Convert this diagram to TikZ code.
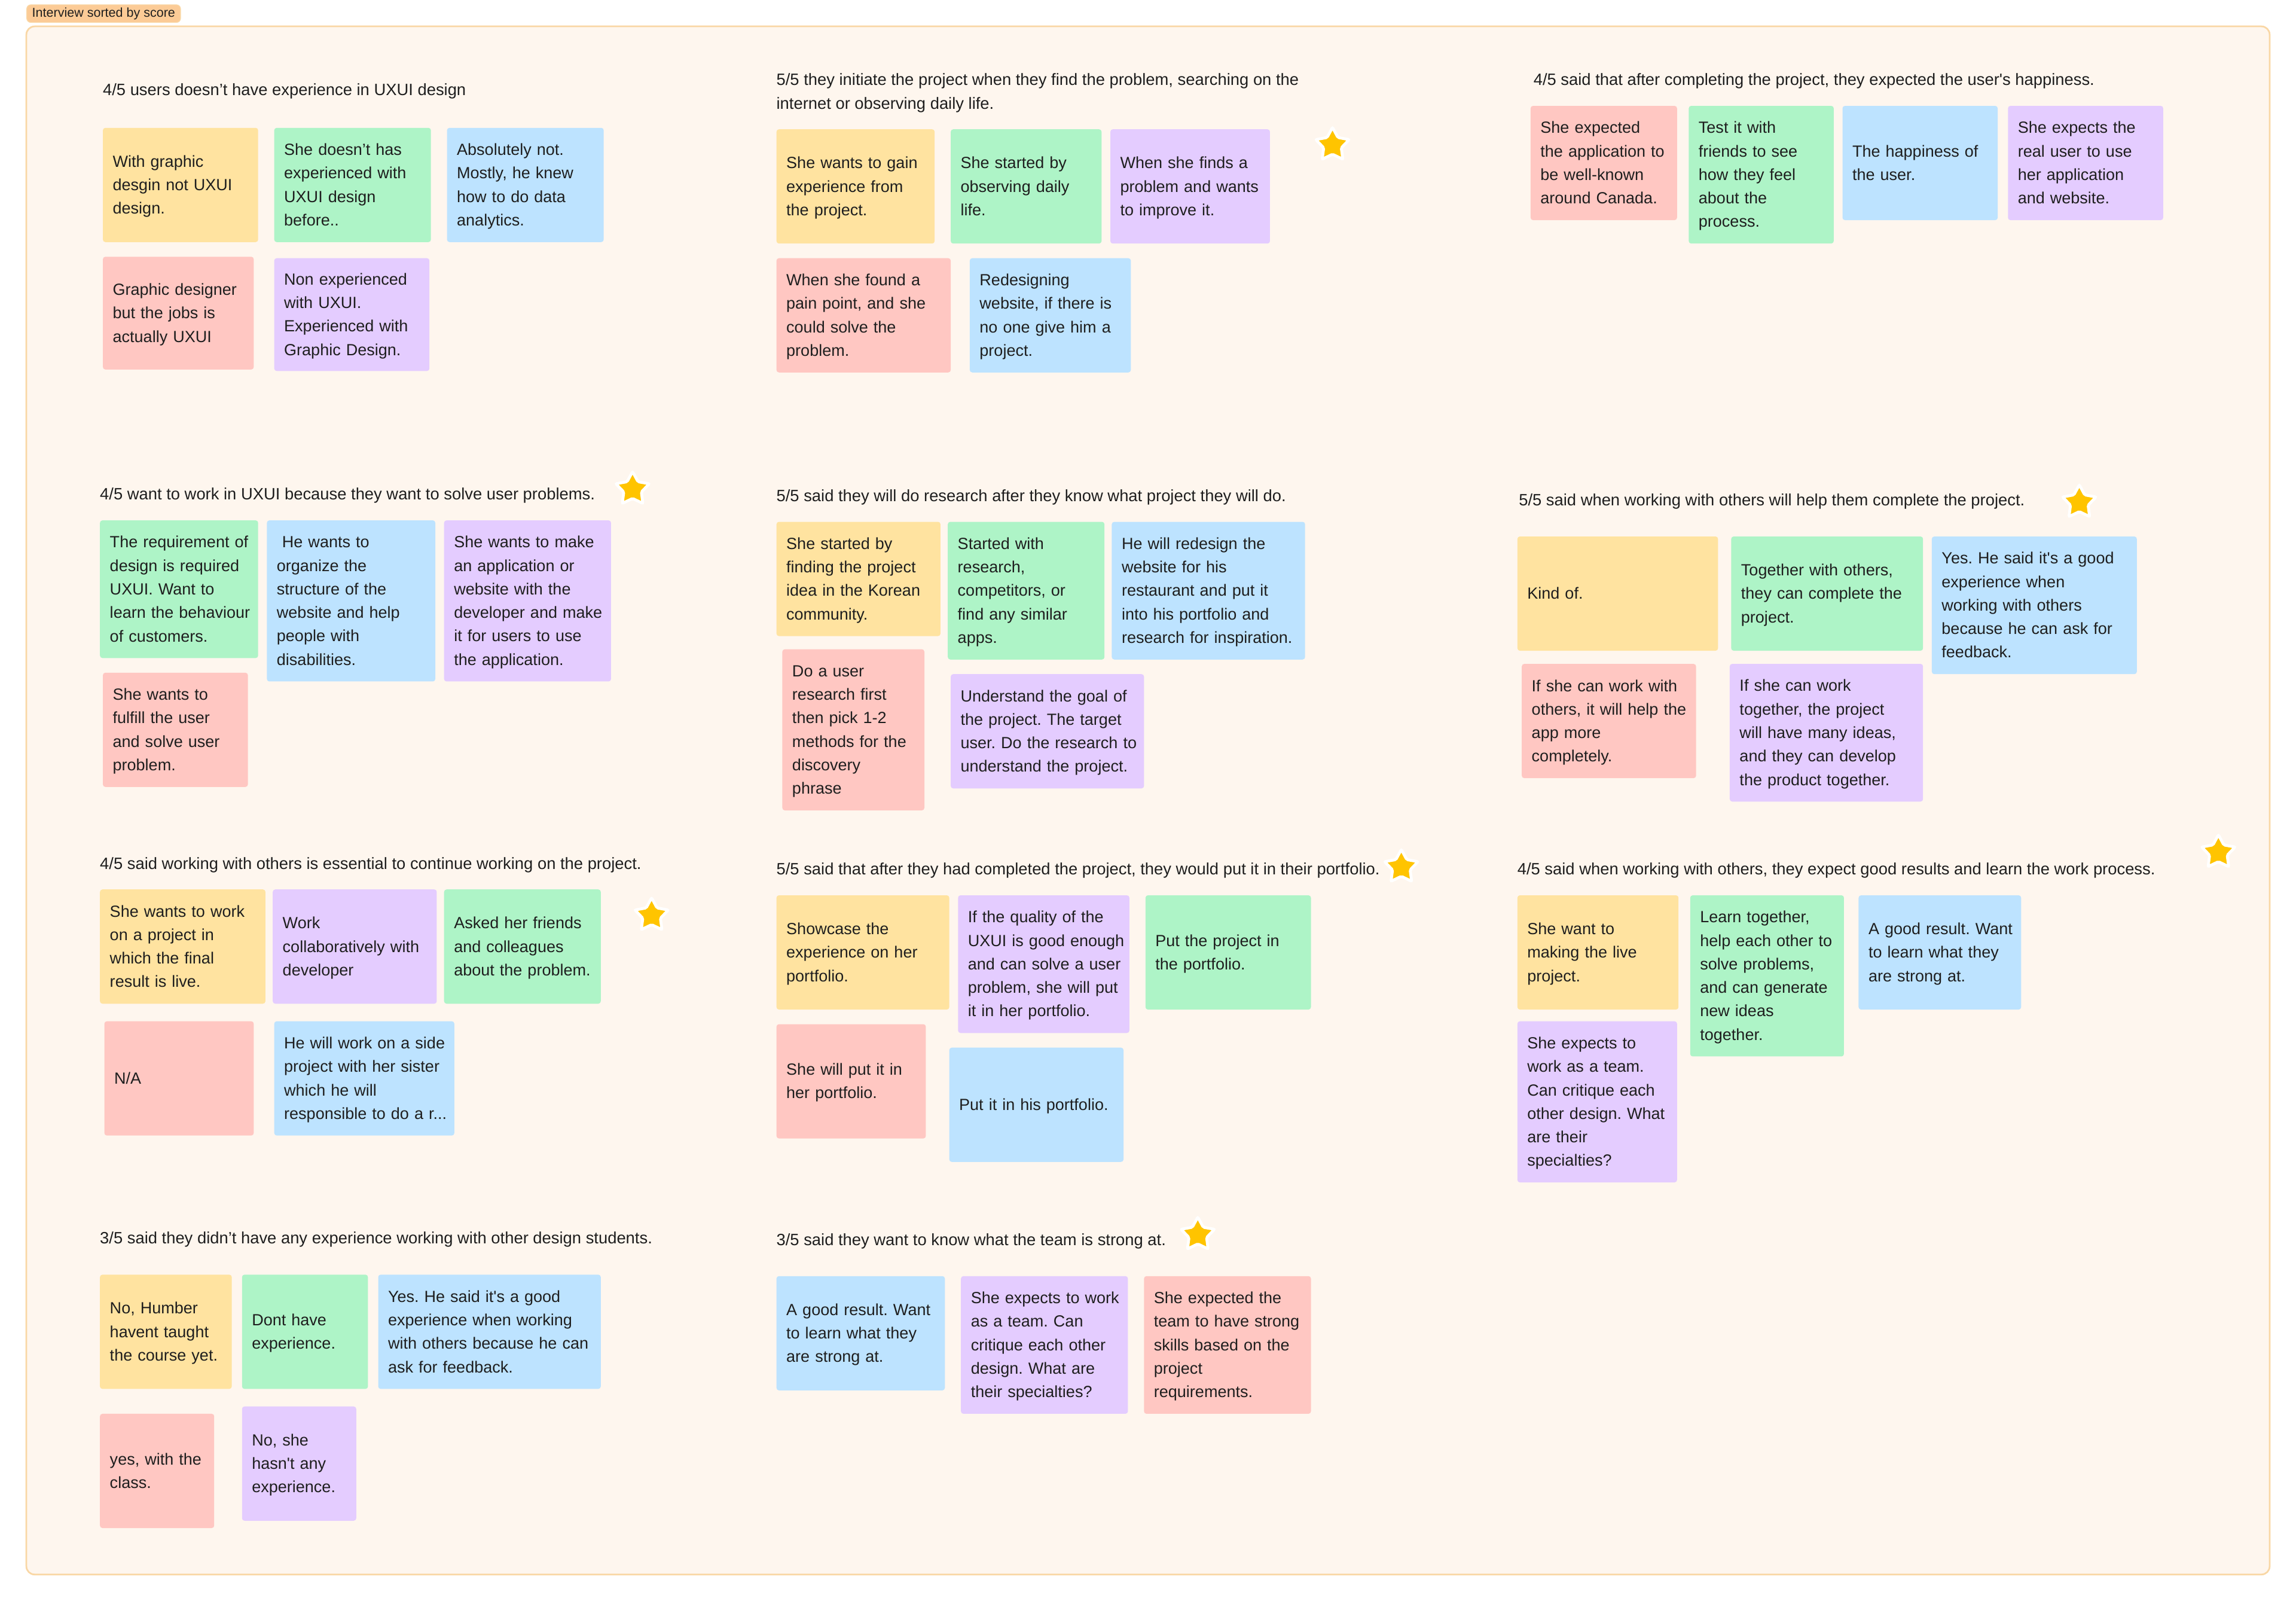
\documentclass[tikz,border=0pt]{standalone}
\usepackage{fontspec}
\newfontfamily\notefont{Liberation Sans}
\usetikzlibrary{shapes.geometric}
\usetikzlibrary{positioning}
\definecolor{noteyellow}{HTML}{FFE3A0}
\definecolor{notegreen}{HTML}{AEF4C7}
\definecolor{noteblue}{HTML}{BDE3FF}
\definecolor{notered}{HTML}{FFC7C2}
\definecolor{notepurple}{HTML}{E4CCFF}
\definecolor{sectionfill}{HTML}{FEF6EE}
\definecolor{sectionline}{HTML}{F9D7A5}
\definecolor{tagfill}{HTML}{FCCB96}
\definecolor{starfill}{HTML}{FFC400}
\definecolor{inktext}{HTML}{1E1E1E}
\tikzset{
    note/.style n args={3}{anchor=north west,fill=#1,rounded corners=1.2pt,
        inner xsep=0pt,inner ysep=0pt,text=inktext,
        font=\notefont\fontsize{7.85}{11.4}\selectfont,
        execute at begin node={\rule{0pt}{8.1pt}\frenchspacing\hyphenpenalty=10000\leftskip=4.8pt\rightskip=-30pt plus 1fil\parfillskip=0pt plus 1fil\parindent=0pt},
        execute at end node={\rule[-2.7pt]{0pt}{0pt}},
        minimum width=#2*0.025cm,minimum height=#3*0.025cm,text width={#2*0.025cm}},
    heading/.style={anchor=west,inner sep=0pt,align=left,text=inktext,yshift=-1pt,
        font=\notefont\fontsize{7.95}{11.4}\selectfont},
    goldstar/.style={star,star points=5,star point ratio=1.9,inner sep=0pt,
        minimum size=0.6cm,fill=starfill,draw=white,line width=1.4pt,rounded corners=0.6pt}
}
\begin{document}
\begin{tikzpicture}[x=0.025cm,y=-0.025cm]
    \useasboundingbox (0,0) rectangle (1568,1092.7);
    \draw[fill=sectionfill,draw=sectionline,line width=0.8pt,rounded corners=4pt] (18,18) rectangle (1550,1075);
    \node[anchor=north west,fill=tagfill,draw=sectionline,rounded corners=2pt,inner sep=0pt,minimum width=105*0.025cm,minimum height=12*0.025cm,
        font=\notefont\fontsize{6.25}{7}\selectfont,text=inktext] (tag) at (18,3) {Interview sorted by score};

    \node[heading] (title1) at (70,61) {4/5 users doesn’t have experience in UXUI design};
    \node[note={noteyellow}{106}{78}] (yellow1) at (70,87) {With graphic\\desgin not UXUI\\design.};
    \node[note={notegreen}{107}{78}] (green1) at (187,87) {She doesn’t has\\experienced with\\UXUI design\\before..};
    \node[note={noteblue}{107}{78}] (blue1) at (305,87) {Absolutely not.\\Mostly, he knew\\how to do data\\analytics.};
    \node[note={notered}{103}{77}] (red1) at (70,175) {Graphic designer\\but the jobs is\\actually UXUI};
    \node[note={notepurple}{106}{77}] (purple1) at (187,176) {Non experienced\\with UXUI.\\Experienced with\\Graphic Design.};

    \node[heading] (title2) at (530,62) {5/5 they initiate the project when they find the problem, searching on the\\internet or observing daily life.};
    \node[note={noteyellow}{108}{78}] (yellow2) at (530,88) {She wants to gain\\experience from\\the project.};
    \node[note={notegreen}{103}{78}] (green2) at (649,88) {She started by\\observing daily\\life.};
    \node[note={notepurple}{109}{78}] (purple2) at (758,88) {When she finds a\\problem and wants\\to improve it.};
    \node[note={notered}{119}{78}] (red2) at (530,176) {When she found a\\pain point, and she\\could solve the\\problem.};
    \node[note={noteblue}{110}{78}] (blue2) at (662,176) {Redesigning\\website, if there is\\no one give him a\\project.};
    \node[goldstar] (star2) at (910,99) {};

    \node[heading] (title3) at (1047,54) {4/5 said that after completing the project, they expected the user's happiness.};
    \node[note={notered}{100}{78}] (red3) at (1045,72) {She expected\\the application to\\be well-known\\around Canada.};
    \node[note={notegreen}{99}{94}] (green3) at (1153,72) {Test it with\\friends to see\\how they feel\\about the\\process.};
    \node[note={noteblue}{106}{78}] (blue3) at (1258,72) {The happiness of\\the user.};
    \node[note={notepurple}{106}{78}] (purple3) at (1371,72) {She expects the\\real user to use\\her application\\and website.};

    \node[heading] (title4) at (68,337) {4/5 want to work in UXUI because they want to solve user problems.};
    \node[note={notegreen}{108}{94}] (green4) at (68,355) {The requirement of\\design is required\\UXUI. Want to\\learn the behaviour\\of customers.};
    \node[note={noteblue}{115}{110}] (blue4) at (182,355) {\ He wants to\\organize the\\structure of the\\website and help\\people with\\disabilities.};
    \node[note={notepurple}{114}{110}] (purple4) at (303,355) {She wants to make\\an application or\\website with the\\developer and make\\it for users to use\\the application.};
    \node[note={notered}{99}{78}] (red4) at (70,459) {She wants to\\fulfill the user\\and solve user\\problem.};
    \node[goldstar] (star4) at (432,334) {};

    \node[heading] (title5) at (530,338) {5/5 said they will do research after they know what project they will do.};
    \node[note={noteyellow}{112}{78}] (yellow5) at (530,356) {She started by\\finding the project\\idea in the Korean\\community.};
    \node[note={notegreen}{107}{94}] (green5) at (647,356) {Started with\\research,\\competitors, or\\find any similar\\apps.};
    \node[note={noteblue}{132}{94}] (blue5) at (759,356) {He will redesign the\\website for his\\restaurant and put it\\into his portfolio and\\research for inspiration.};
    \node[note={notered}{97}{110}] (red5) at (534,443) {Do a user\\research first\\then pick 1-2\\methods for the\\discovery\\phrase};
    \node[note={notepurple}{132}{78}] (purple5) at (649,460) {Understand the goal of\\the project. The target\\user. Do the research to\\understand the project.};

    \node[heading] (title6) at (1037,341) {5/5 said when working with others will help them complete the project.};
    \node[note={noteyellow}{137}{78}] (yellow6) at (1036,366) {Kind of.};
    \node[note={notegreen}{131}{78}] (green6) at (1182,366) {Together with others,\\they can complete the\\project.};
    \node[note={noteblue}{140}{94}] (blue6) at (1319,366) {Yes. He said it's a good\\experience when\\working with others\\because he can ask for\\feedback.};
    \node[note={notered}{119}{78}] (red6) at (1039,453) {If she can work with\\others, it will help the\\app more\\completely.};
    \node[note={notepurple}{132}{94}] (purple6) at (1181,453) {If she can work\\together, the project\\will have many ideas,\\and they can develop\\the product together.};
    \node[goldstar] (star6) at (1420,343) {};

    \node[heading] (title7) at (68,589) {4/5 said working with others is essential to continue working on the project.};
    \node[note={noteyellow}{113}{78}] (yellow7) at (68,607) {She wants to work\\on a project in\\which the final\\result is live.};
    \node[note={notepurple}{112}{78}] (purple7) at (186,607) {Work\\collaboratively with\\developer};
    \node[note={notegreen}{107}{78}] (green7) at (303,607) {Asked her friends\\and colleagues\\about the problem.};
    \node[note={notered}{102}{78}] (red7) at (71,697) {N/A};
    \node[note={noteblue}{123}{78}] (blue7) at (187,697) {He will work on a side\\project with her sister\\which he will\\responsible to do a r...};
    \node[goldstar] (star7) at (445,625) {};

    \node[heading] (title8) at (530,593) {5/5 said that after they had completed the project, they would put it in their portfolio.};
    \node[note={noteyellow}{118}{78}] (yellow8) at (530,611) {Showcase the\\experience on her\\portfolio.};
    \node[note={notepurple}{117}{94}] (purple8) at (654,611) {If the quality of the\\UXUI is good enough\\and can solve a user\\problem, she will put\\it in her portfolio.};
    \node[note={notegreen}{113}{78}] (green8) at (782,611) {Put the project in\\the portfolio.};
    \node[note={notered}{102}{78}] (red8) at (530,699) {She will put it in\\her portfolio.};
    \node[note={noteblue}{119}{78}] (blue8) at (648,715) {Put it in his portfolio.};
    \node[goldstar] (star8) at (957,592) {};

    \node[heading] (title9) at (1036,593) {4/5 said when working with others, they expect good results and learn the work process.};
    \node[note={noteyellow}{110}{78}] (yellow9) at (1036,611) {She want to\\making the live\\project.};
    \node[note={notegreen}{105}{110}] (green9) at (1154,611) {Learn together,\\help each other to\\solve problems,\\and can generate\\new ideas\\together.};
    \node[note={noteblue}{111}{78}] (blue9) at (1269,611) {A good result. Want\\to learn what they\\are strong at.};
    \node[note={notepurple}{109}{110}] (purple9) at (1036,697) {She expects to\\work as a team.\\Can critique each\\other design. What\\are their\\specialties?};
    \node[goldstar] (star9) at (1515,582) {};

    \node[heading] (title10) at (68,845) {3/5 said they didn’t have any experience working with other design students.};
    \node[note={noteyellow}{90}{78}] (yellow10) at (68,870) {No, Humber\\havent taught\\the course yet.};
    \node[note={notegreen}{86}{78}] (green10) at (165,870) {Dont have\\experience.};
    \node[note={noteblue}{152}{78}] (blue10) at (258,870) {Yes. He said it's a good\\experience when working\\with others because he can\\ask for feedback.};
    \node[note={notered}{78}{78}] (red10) at (68,965) {yes, with the\\class.};
    \node[note={notepurple}{78}{78}] (purple10) at (165,960) {No, she\\hasn't any\\experience.};

    \node[heading] (title11) at (530,846) {3/5 said they want to know what the team is strong at.};
    \node[note={noteblue}{115}{78}] (blue11) at (530,871) {A good result. Want\\to learn what they\\are strong at.};
    \node[note={notepurple}{114}{94}] (purple11) at (656,871) {She expects to work\\as a team. Can\\critique each other\\design. What are\\their specialties?};
    \node[note={notered}{114}{94}] (red11) at (781,871) {She expected the\\team to have strong\\skills based on the\\project\\requirements.};
    \node[goldstar] (star11) at (818,843) {};
\end{tikzpicture}
\end{document}
